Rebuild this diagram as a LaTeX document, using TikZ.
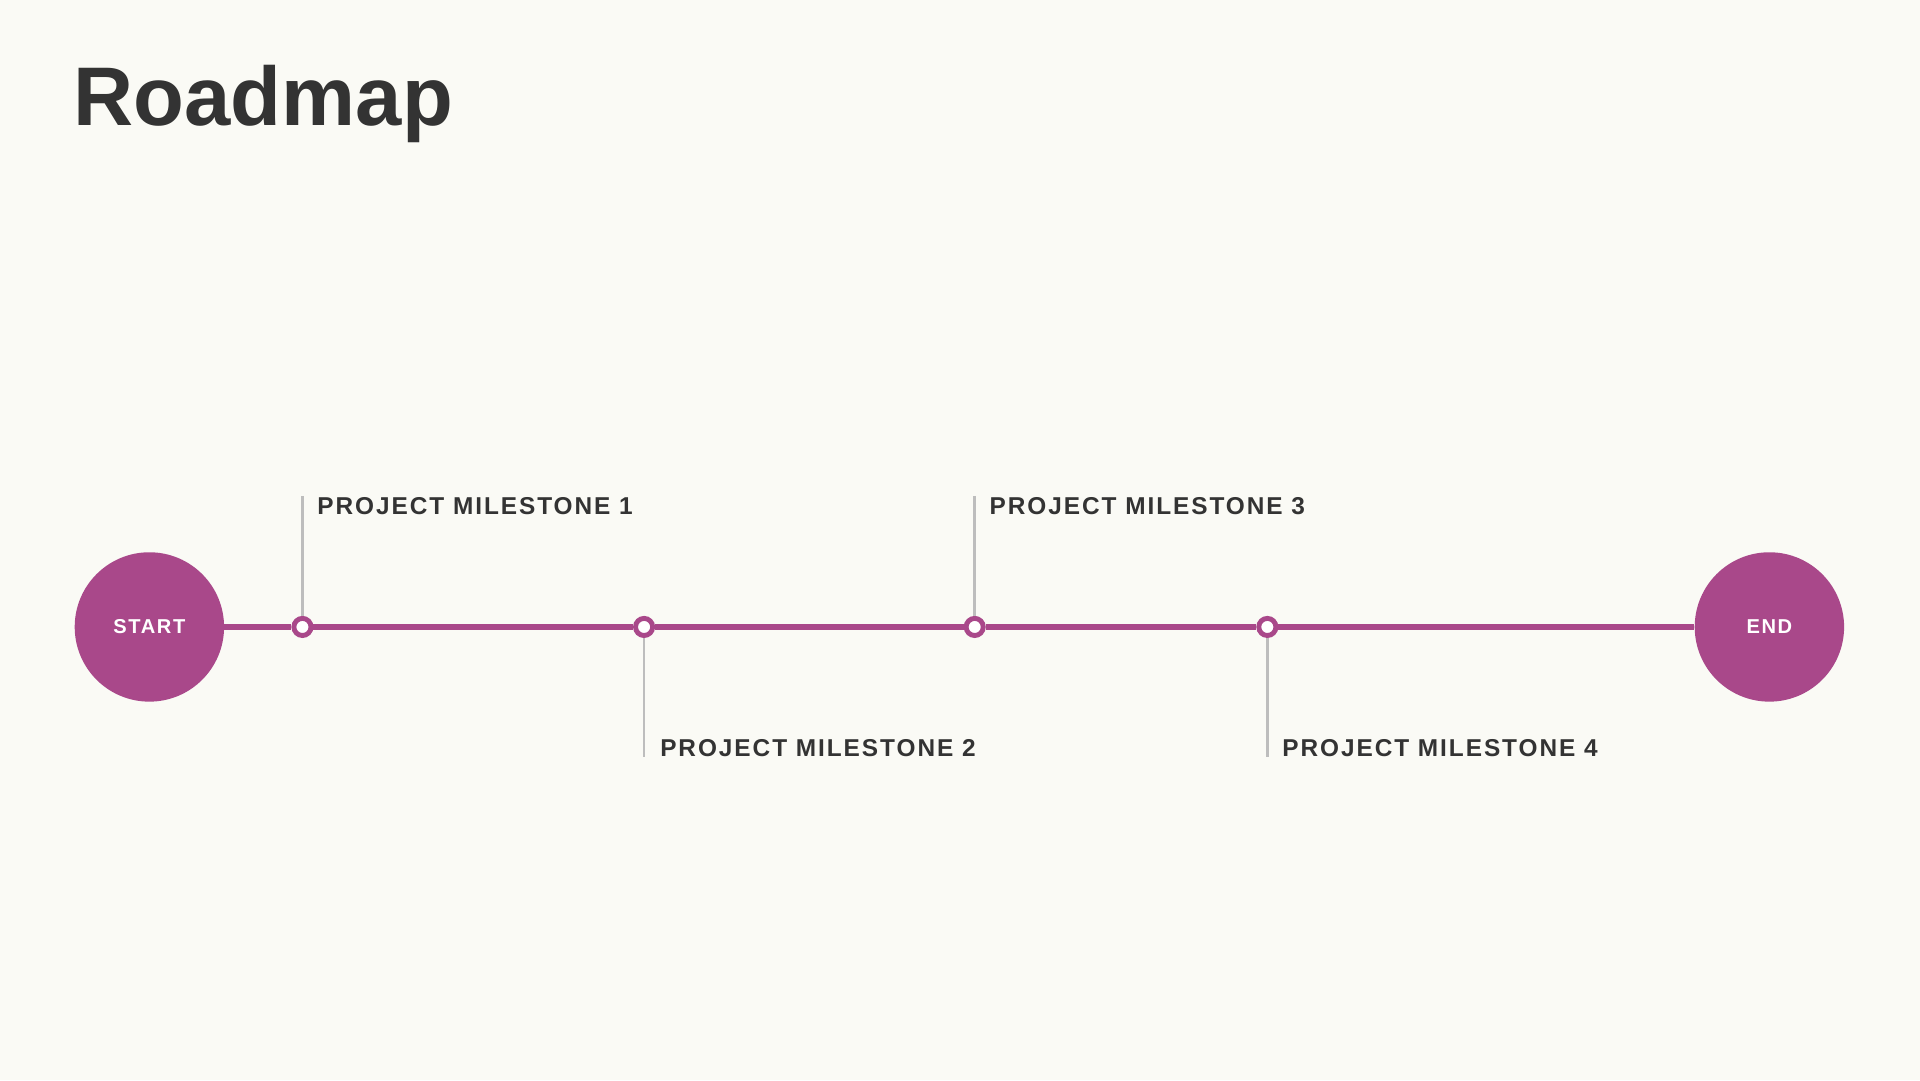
\documentclass[tikz,border=0pt]{standalone}
\usepackage{fontspec}
\setmainfont{Liberation Sans}
\newfontfamily\lblfont[LetterSpace=8]{Liberation Sans}
\definecolor{bg}{HTML}{FAFAF5}
\definecolor{mag}{HTML}{A9488A}
\definecolor{txt}{HTML}{333333}
\definecolor{tick}{HTML}{BDBDBD}
\begin{document}
\begin{tikzpicture}[x=0.03cm,y=-0.03cm,
  endpt/.style={circle,fill=mag,minimum size=122*0.03cm,inner sep=0,text=white,font=\lblfont\bfseries\fontsize{14}{16}\selectfont},
  ms/.style={circle,draw=mag,fill=white,line width=4*0.03cm,minimum size=14*0.03cm,inner sep=0},
  road/.style={draw=mag,line width=5*0.03cm},
  tk/.style={draw=tick,line width=2*0.03cm},
  lbl/.style={anchor=west,text=txt,inner sep=0,font=\lblfont\bfseries\fontsize{17}{20}\selectfont}]
\fill[bg] (0,0) rectangle (1568,882);
\useasboundingbox (0,0) rectangle (1568,882);
\node[anchor=west,inner sep=0,text=txt,font=\bfseries\fontsize{58}{64}\selectfont] (title) at (60,85) {Roadmap};
\node[endpt] (s) at (122,512) {START};
\node[endpt] (e) at (1445,512) {END};
\node[ms] (m1) at (247,512) {};
\node[ms] (m2) at (526,512) {};
\node[ms] (m3) at (796,512) {};
\node[ms] (m4) at (1035,512) {};
\draw[road] (s) -- (m1); \draw[road] (m1) -- (m2); \draw[road] (m2) -- (m3);
\draw[road] (m3) -- (m4); \draw[road] (m4) -- (e);
\coordinate (t1) at (247,405); \coordinate (t2) at (526,618);
\coordinate (t3) at (796,405); \coordinate (t4) at (1035,618);
\draw[tk] (t1) -- (m1.north); \draw[tk] (t2) -- (m2.south);
\draw[tk] (t3) -- (m3.north); \draw[tk] (t4) -- (m4.south);
\node[lbl] (l1) at (259,413) {PROJECT MILESTONE 1};
\node[lbl] (l2) at (539,611) {PROJECT MILESTONE 2};
\node[lbl] (l3) at (808,413) {PROJECT MILESTONE 3};
\node[lbl] (l4) at (1047,611) {PROJECT MILESTONE 4};
\end{tikzpicture}
\end{document}
